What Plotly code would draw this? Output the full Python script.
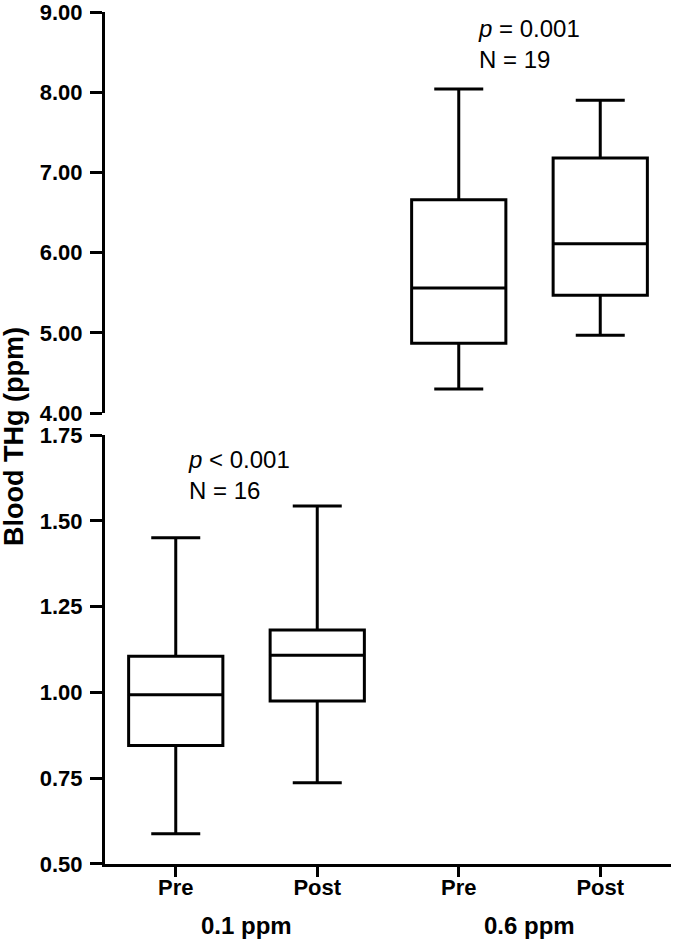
import plotly.graph_objects as go

# Data
positions = [0, 1, 2, 3]
tick_labels = ["Pre", "Post", "Pre", "Post"]
group_labels = ["0.1 ppm", "0.6 ppm"]
group_centers = [0.5, 2.5]

low_x = [0, 1]
low_lower = [0.588, 0.737]
low_q1 = [0.845, 0.975]
low_median = [0.993, 1.108]
low_q3 = [1.105, 1.182]
low_upper = [1.451, 1.543]

high_x = [2, 3]
high_lower = [4.30, 4.97]
high_q1 = [4.87, 5.47]
high_median = [5.56, 6.11]
high_q3 = [6.66, 7.18]
high_upper = [8.04, 7.90]

low_ticks = [0.5, 0.75, 1.0, 1.25, 1.5, 1.75]
high_ticks = [4, 5, 6, 7, 8, 9]

notes_low = ["<i>p</i> < 0.001", "N = 16"]
notes_high = ["<i>p</i> = 0.001", "N = 19"]

FONT = "Arial, Liberation Sans, sans-serif"

fig = go.Figure()

box_style = dict(
    fillcolor="white",
    line=dict(color="black", width=3),
    whiskerwidth=0.52,
    width=0.666,
    boxpoints=False,
    showlegend=False,
    hoverinfo="skip",
)

fig.add_trace(go.Box(
    x=low_x, q1=low_q1, median=low_median, q3=low_q3,
    lowerfence=low_lower, upperfence=low_upper,
    xaxis="x", yaxis="y", **box_style))

fig.add_trace(go.Box(
    x=high_x, q1=high_q1, median=high_median, q3=high_q3,
    lowerfence=high_lower, upperfence=high_upper,
    xaxis="x2", yaxis="y2", **box_style))

axis_common = dict(
    showline=True, linecolor="black", linewidth=3,
    ticks="outside", tickcolor="black", tickwidth=3,
    showgrid=False, zeroline=False, automargin=False,
    ticklabeloverflow="allow",
)

tickfont = dict(size=22, family=FONT, color="black")

fig.update_layout(
    width=675, height=941,
    margin=dict(l=105, r=4, t=12, b=77),
    plot_bgcolor="white", paper_bgcolor="white",
    font=dict(family=FONT, color="black"),
    xaxis=dict(
        range=[-0.5, 3.5], domain=[0, 1], anchor="y",
        tickvals=positions, ticktext=["<b>%s</b>" % t for t in tick_labels],
        tickfont=tickfont, ticklen=10, ticklabelstandoff=-8, **axis_common),
    xaxis2=dict(
        range=[-0.5, 3.5], domain=[0, 1], anchor="y2", matches="x",
        visible=False),
    yaxis=dict(
        range=[0.5, 1.75], domain=[0, 0.5035], anchor="x",
        tickvals=low_ticks,
        ticktext=["<b>%.2f</b>" % v for v in low_ticks],
        tickfont=tickfont, ticklen=12, ticklabelstandoff=3, **axis_common),
    yaxis2=dict(
        range=[4, 9], domain=[0.5293, 1], anchor="x2",
        tickvals=high_ticks,
        ticktext=["<b>%.2f</b>" % v for v in high_ticks],
        tickfont=tickfont, ticklen=12, ticklabelstandoff=3, **axis_common),
)

annotations = [
    dict(text="<b>Blood THg (ppm)</b>", xref="paper", yref="paper",
         x=(14 - 105) / 566, y=(864 - 437) / 852, xanchor="center", yanchor="middle",
         textangle=-90, showarrow=False, font=dict(size=27, family=FONT)),
]
for gc, gl in zip(group_centers, group_labels):
    annotations.append(dict(
        text="<b>%s</b>" % gl, xref="x", yref="paper",
        x=gc, y=-61 / 852, xanchor="center", yanchor="middle",
        showarrow=False, font=dict(size=24, family=FONT)))
annotations += [
    dict(text="<br>".join(notes_low), xref="x", yref="y",
         x=0.07, y=1.633, xanchor="left", yanchor="middle", align="left",
         showarrow=False, font=dict(size=24, family=FONT)),
    dict(text="<br>".join(notes_high), xref="x2", yref="y2",
         x=2.12, y=8.60, xanchor="left", yanchor="middle", align="left",
         showarrow=False, font=dict(size=24, family=FONT)),
]
fig.update_layout(annotations=annotations)

fig.write_html(
    "out.html",
    config={"displayModeBar": False, "staticPlot": True},
    post_script="document.body.style.margin='0';document.body.style.padding='0';",
)
